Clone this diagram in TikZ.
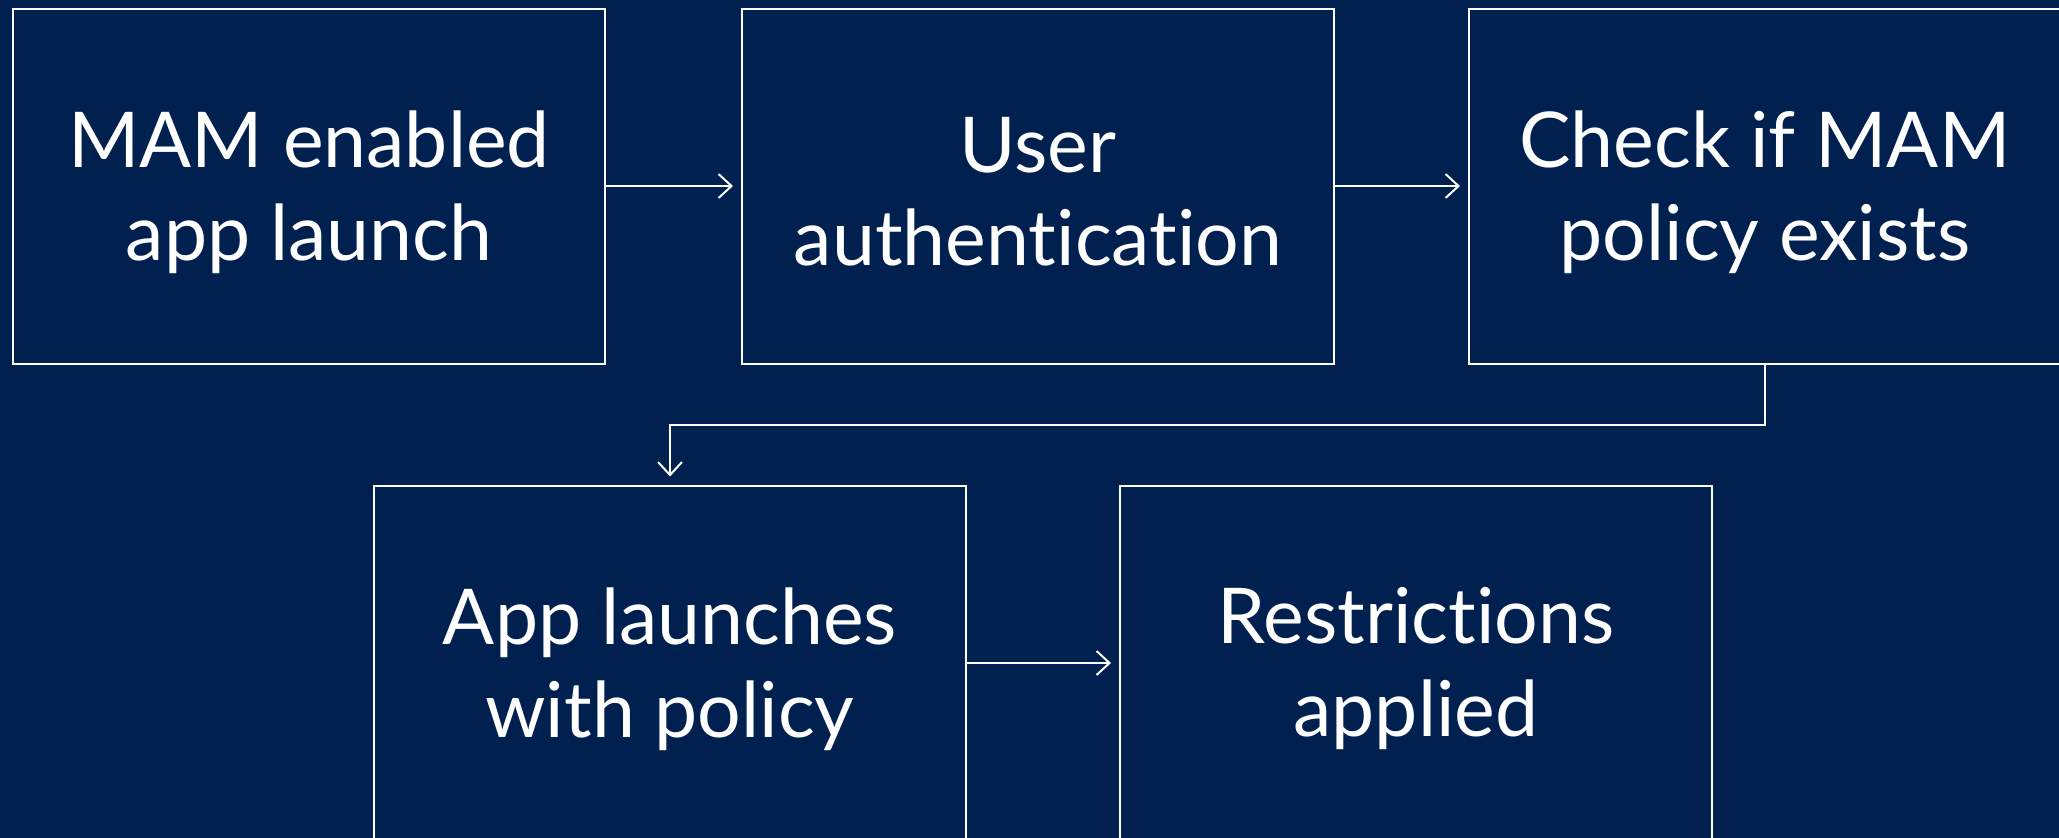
\documentclass[tikz,border=0pt]{standalone}
\usepackage{fontspec}
\setmainfont[Ligatures=NoCommon]{Lato}
\usetikzlibrary{arrows.meta}
\definecolor{bg}{HTML}{00204F}
\tikzset{
  box/.style={draw=white, line width=2pt, fill=bg, minimum width=592pt, minimum height=355pt, inner sep=0pt},
  txt/.style={text=white, align=center, inner sep=0pt, font=\fontsize{77}{93}\selectfont},
  conn/.style={draw=white, line width=2pt, -{Straight Barb[length=13pt,width=24pt,line width=2pt]}, shorten >=8pt}
}
\begin{document}
\begin{tikzpicture}[x=1pt,y=-1pt]
\useasboundingbox (0,0) rectangle (2059,838);
\fill[bg] (0,0) rectangle (2059,838);
\begin{scope}
\clip (0,0) rectangle (2059,838);
\node[box] (b1) at (309,186) {};
\node[box] (b2) at (1038,186) {};
\node[box] (b3) at (1765,186) {};
\node[box] (b4) at (670,663) {};
\node[box] (b5) at (1416,663) {};
\node[txt] (l1) at ([yshift=-6pt]b1.center) {MAM enabled\\app launch};
\node[txt] (l2) at ([yshift=-6pt]b2.center) {User\\authentication};
\node[txt] (l3) at ([yshift=-6pt]b3.center) {Check if MAM\\policy exists};
\node[txt] (l4) at ([yshift=-6pt]b4.center) {App launches\\with policy};
\node[txt] (l5) at ([yshift=-6pt]b5.center) {Restrictions\\applied};
\coordinate (t1) at (1765,425);
\coordinate (t2) at (670,425);
\draw[conn] (b1) -- (b2);
\draw[conn] (b2) -- (b3);
\draw[conn] (b3.south) -- (t1) -- (t2) -- (b4.north);
\draw[conn] (b4) -- (b5);
\end{scope}
\end{tikzpicture}
\end{document}
